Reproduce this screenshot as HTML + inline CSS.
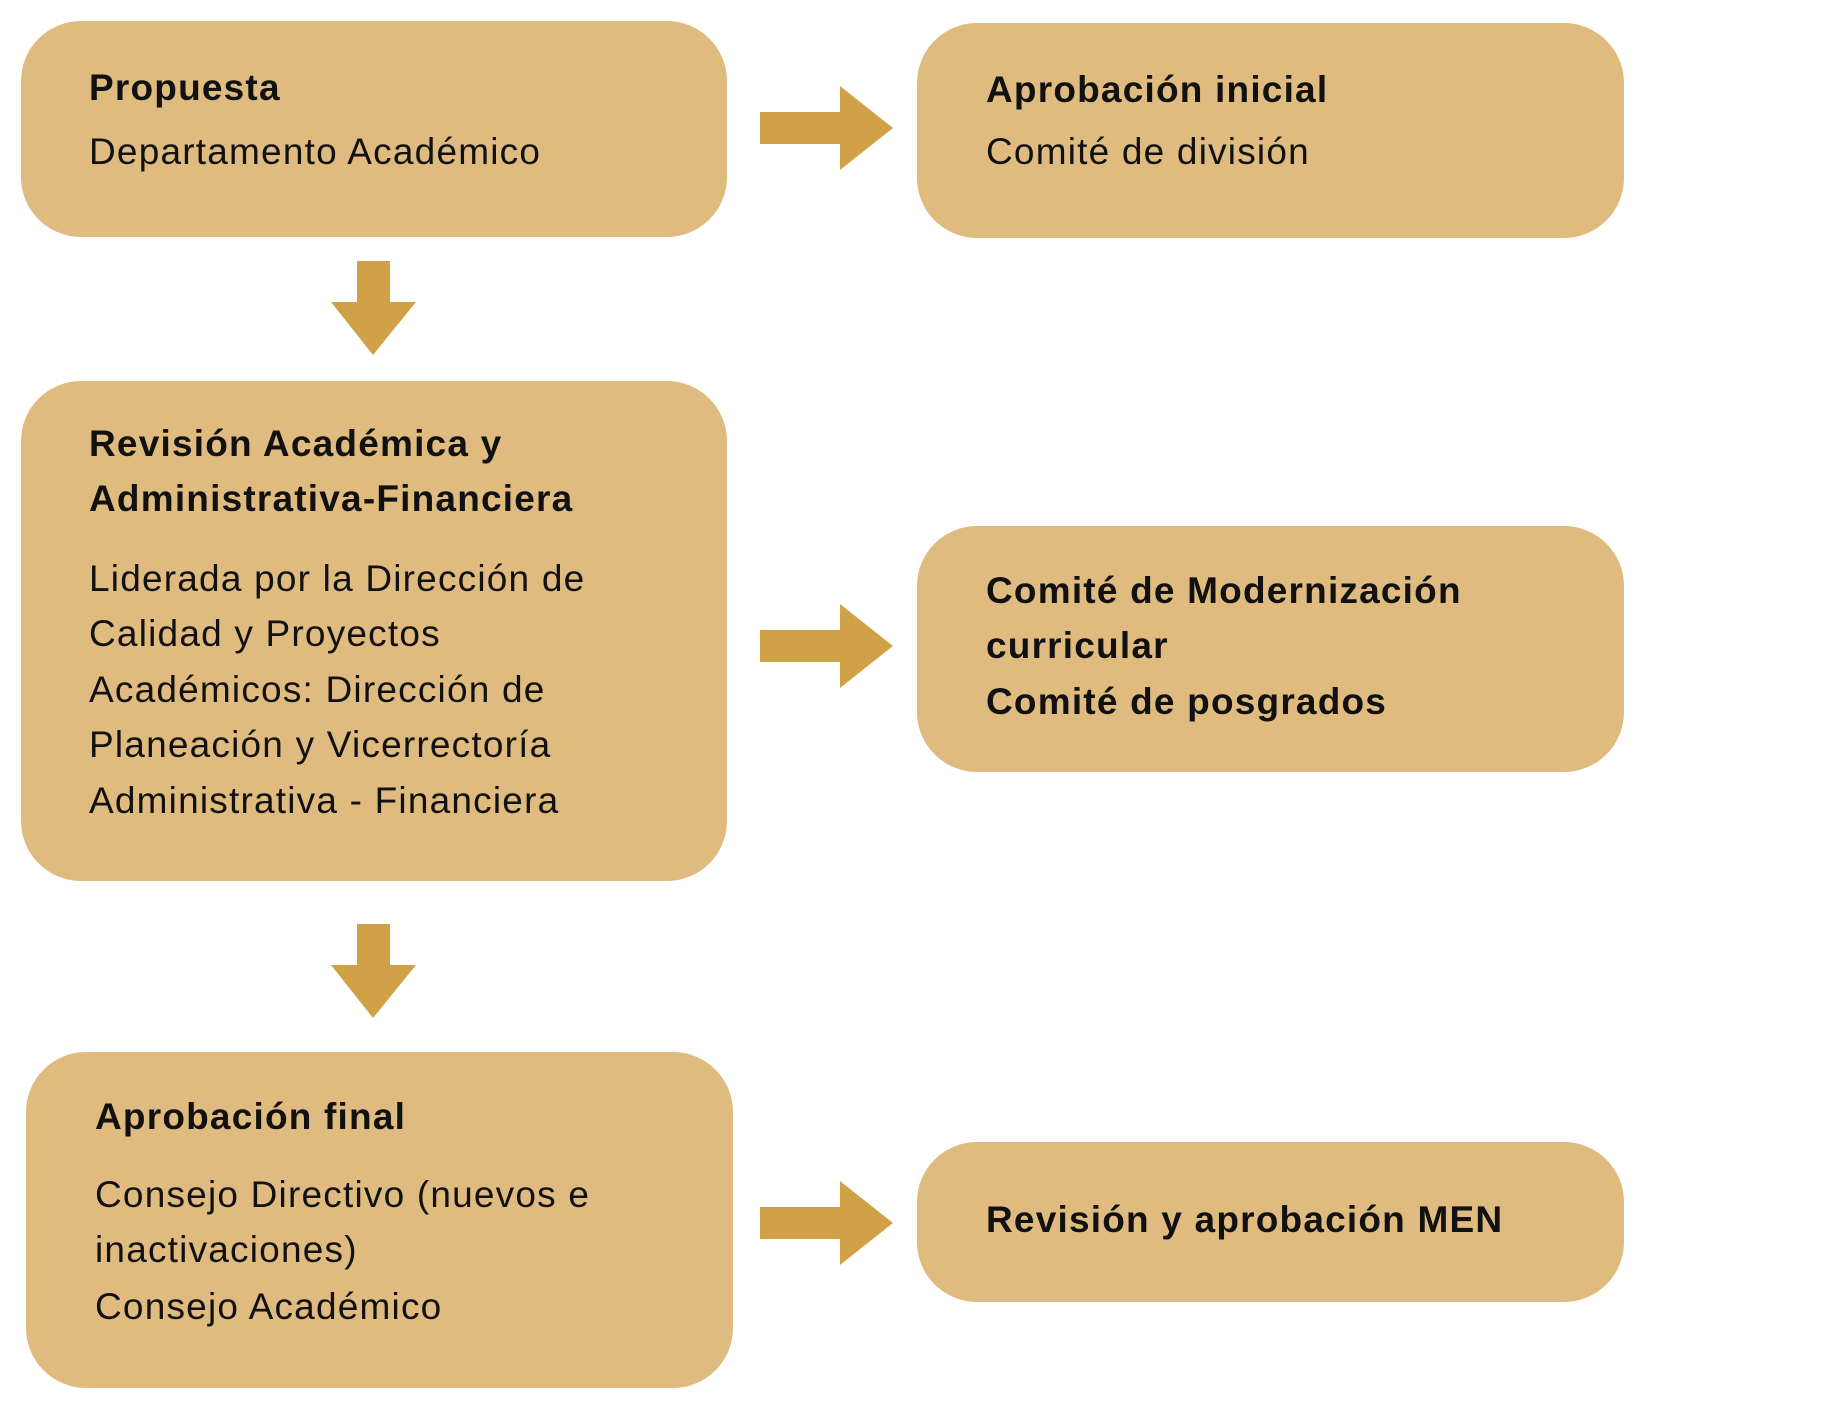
<!DOCTYPE html>
<html><head><meta charset="utf-8"><style>
html,body{margin:0;padding:0;background:#fff;}
svg{display:block;}
text{font-family:"Liberation Sans",sans-serif;font-size:37px;fill:#111;letter-spacing:1.2px;}
.b{font-weight:bold;}
</style></head><body>
<svg width="1841" height="1404" viewBox="0 0 1841 1404" xmlns="http://www.w3.org/2000/svg">
<g fill="#dfbb7f">
<rect x="21" y="21" width="706" height="216" rx="60"/>
<rect x="917" y="23" width="707" height="215" rx="60"/>
<rect x="21" y="381" width="706" height="500" rx="60"/>
<rect x="917" y="526" width="707" height="246" rx="60"/>
<rect x="26" y="1052" width="707" height="336" rx="60"/>
<rect x="917" y="1142" width="707" height="160" rx="60"/>
</g>
<g fill="#d1a148">
<polygon points="760,112 840,112 840,86 893,128 840,170 840,144 760,144"/>
<polygon points="760,630 840,630 840,604 893,646 840,688 840,662 760,662"/>
<polygon points="760,1207 840,1207 840,1181 893,1223 840,1265 840,1239 760,1239"/>
<polygon points="357,261 390,261 390,302 416,302 373,355 331,302 357,302"/>
<polygon points="357,924 390,924 390,965 416,965 373,1018 331,965 357,965"/>
</g>
<text class="b" x="89" y="100">Propuesta</text>
<text x="89" y="164">Departamento Académico</text>
<text class="b" x="986" y="102">Aprobación inicial</text>
<text x="986" y="164">Comité de división</text>
<text class="b" x="89" y="456">Revisión Académica y</text>
<text class="b" x="89" y="511">Administrativa-Financiera</text>
<text x="89" y="591">Liderada por la Dirección de</text>
<text x="89" y="646">Calidad y Proyectos</text>
<text x="89" y="702">Académicos: Dirección de</text>
<text x="89" y="757">Planeación y Vicerrectoría</text>
<text x="89" y="813">Administrativa - Financiera</text>
<text class="b" x="986" y="603">Comité de Modernización</text>
<text class="b" x="986" y="658">curricular</text>
<text class="b" x="986" y="714">Comité de posgrados</text>
<text class="b" x="95" y="1129">Aprobación final</text>
<text x="95" y="1207">Consejo Directivo (nuevos e</text>
<text x="95" y="1262">inactivaciones)</text>
<text x="95" y="1319">Consejo Académico</text>
<text class="b" x="986" y="1232">Revisión y aprobación MEN</text>
</svg>
</body></html>
